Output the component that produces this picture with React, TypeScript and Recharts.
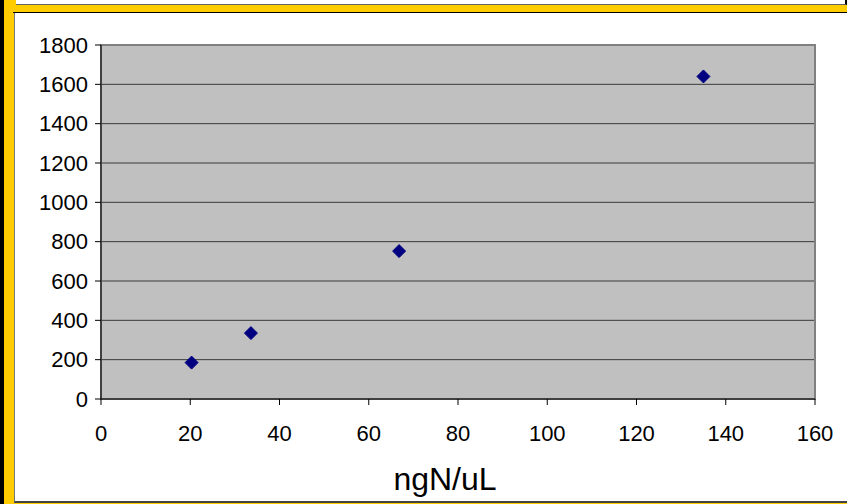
import React from 'react';
import { ScatterChart, Scatter, XAxis, YAxis, CartesianGrid, ReferenceArea, Label } from 'recharts';

const concentrations = [20.3, 33.6, 66.8, 135];
const signals = [185, 335, 752, 1640];
const xTicks = [0, 20, 40, 60, 80, 100, 120, 140, 160];
const yTicks = [0, 200, 400, 600, 800, 1000, 1200, 1400, 1600, 1800];

const data = concentrations.map((x, i) => ({ x, y: signals[i] }));

const font = '"Liberation Sans", Arial, sans-serif';
const tickStyle = { fontSize: 22, fill: '#000', fontFamily: font };

// excel style diamond marker
const Diamond = (props: any) => {
  const { cx, cy } = props;
  const r = 6.5;
  return (
    <polygon
      points={`${cx},${cy - r} ${cx + r},${cy} ${cx},${cy + r} ${cx - r},${cy}`}
      fill="#000080"
      stroke="#000080"
      strokeWidth={1}
    />
  );
};

const App = () => {
  return (
    <div style={{ position: 'absolute', top: 0, left: 0, width: 847, height: 504, background: '#FFCC00', overflow: 'hidden' }}>
      {/* frame bits */}
      <div style={{ position: 'absolute', left: 0, top: 0, width: 4, height: 504, background: '#000' }} />
      <div style={{ position: 'absolute', left: 16, top: 0, width: 829, height: 4, background: '#fff', borderBottom: '1px solid #666', borderRight: '2px solid #000' }} />
      <div style={{ position: 'absolute', left: 13, top: 12, width: 834, height: 1, background: '#000' }} />
      <div style={{ position: 'absolute', left: 14, top: 13, width: 833, height: 488, background: '#fff', borderLeft: '1px solid #777', borderBottom: '2px solid #444' }} />

      <div style={{ position: 'absolute', left: 0, top: 0 }}>
        <ScatterChart width={847} height={504} margin={{ top: 45, right: 32, bottom: 5, left: 41 }}>
          <CartesianGrid horizontal vertical={false} fill="#C0C0C0" fillOpacity={1} stroke="#3a3a3a" horizontalValues={yTicks.slice(1, -1)} />
          <ReferenceArea x1={0} x2={160} y1={0} y2={1800} fill="none" stroke="#808080" strokeWidth={2} strokeOpacity={1} ifOverflow="visible" />
          <XAxis
            type="number"
            dataKey="x"
            domain={[0, 160]}
            ticks={xTicks}
            height={100}
            stroke="#000"
            tickSize={6}
            tickMargin={20}
            tick={tickStyle}
            interval={0}
          >
            <Label value="ngN/uL" position="insideBottom" offset={9} dx={-13} style={{ fontSize: 32, fill: '#000', fontFamily: font }} />
          </XAxis>
          <YAxis
            type="number"
            dataKey="y"
            domain={[0, 1800]}
            ticks={yTicks}
            width={60}
            stroke="#000"
            tickSize={6}
            tickMargin={7}
            tick={tickStyle}
            interval={0}
          />
          <Scatter data={data} shape={<Diamond />} isAnimationActive={false} />
        </ScatterChart>
      </div>
    </div>
  );
};

export default App;
